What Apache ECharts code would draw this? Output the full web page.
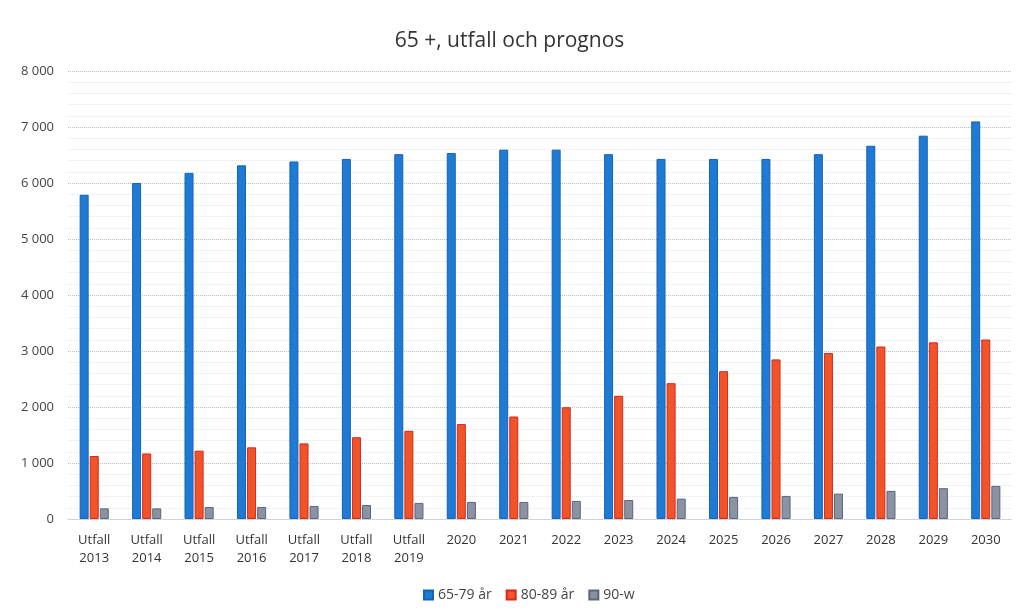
<!DOCTYPE html>
<html>
<head>
<meta charset="utf-8">
<title>65 +, utfall och prognos</title>
<script src="https://cdn.jsdelivr.net/npm/echarts@6/dist/echarts.min.js"></script>
<style>
  html, body { margin: 0; padding: 0; background: #fff; }
  #chart { width: 1019px; height: 615px; }
</style>
</head>
<body>
<div id="chart"></div>
<script>
// kategorier och värden
var years = ['Utfall\n2013', 'Utfall\n2014', 'Utfall\n2015', 'Utfall\n2016', 'Utfall\n2017', 'Utfall\n2018', 'Utfall\n2019',
  '2020', '2021', '2022', '2023', '2024', '2025', '2026', '2027', '2028', '2029', '2030'];
var age65_79 = [5790, 6000, 6180, 6315, 6385, 6430, 6515, 6535, 6595, 6595, 6515, 6430, 6430, 6430, 6515, 6665, 6845, 7100];
var age80_89 = [1125, 1170, 1220, 1280, 1350, 1460, 1575, 1695, 1830, 1995, 2200, 2425, 2640, 2850, 2965, 3080, 3155, 3205];
var age90w = [190, 190, 215, 215, 233, 250, 287, 305, 305, 323, 340, 364, 394, 412, 453, 502, 550, 591];
var seriesNames = ['65-79 år', '80-89 år', '90-w'];

var myChart = echarts.init(document.getElementById('chart'));

function fmt(v) {
  return String(v).replace(/\B(?=(\d{3})+(?!\d))/g, ' ');
}

myChart.setOption({
  animation: false,
  textStyle: { fontFamily: 'Open Sans, Noto Sans, sans-serif' },
  title: {
    text: '65 +, utfall och prognos',
    left: 'center',
    top: 26,
    textStyle: { fontSize: 21, fontWeight: 'normal', color: '#333' }
  },
  legend: {
    data: seriesNames,
    top: 583,
    left: 418,
    itemWidth: 9,
    itemHeight: 9,
    icon: 'rect',
    itemGap: 14,
    textStyle: { fontSize: 14, color: '#444' }
  },
  grid: { left: 68, right: 7, top: 71, bottom: 96 },
  xAxis: {
    type: 'category',
    data: years,
    axisTick: { show: false },
    axisLine: { lineStyle: { color: '#c8c8d0', type: 'dotted' } },
    axisLabel: { fontSize: 13, color: '#333', lineHeight: 18, margin: 12, interval: 0 }
  },
  yAxis: {
    type: 'value',
    min: 0,
    max: 8000,
    interval: 1000,
    axisLabel: { fontSize: 13, color: '#444', margin: 14, formatter: fmt },
    splitLine: { lineStyle: { color: '#b8bccb', type: 'dotted', width: 1 } },
    minorTick: { show: false, splitNumber: 5 },
    minorSplitLine: { show: true, lineStyle: { color: '#e2e4ec', type: 'dotted' } }
  },
  series: [
    {
      name: seriesNames[0], type: 'bar', data: age65_79,
      barWidth: 9, barGap: '12%',
      itemStyle: { color: '#1f7ad3', borderColor: '#1363b8', borderWidth: 1 }
    },
    {
      name: seriesNames[1], type: 'bar', data: age80_89,
      barWidth: 9, barGap: '12%',
      itemStyle: { color: '#f0552a', borderColor: '#d9261a', borderWidth: 1 }
    },
    {
      name: seriesNames[2], type: 'bar', data: age90w,
      barWidth: 9, barGap: '12%',
      itemStyle: { color: '#8a93a3', borderColor: '#5d6678', borderWidth: 1 }
    }
  ]
});
</script>
</body>
</html>
